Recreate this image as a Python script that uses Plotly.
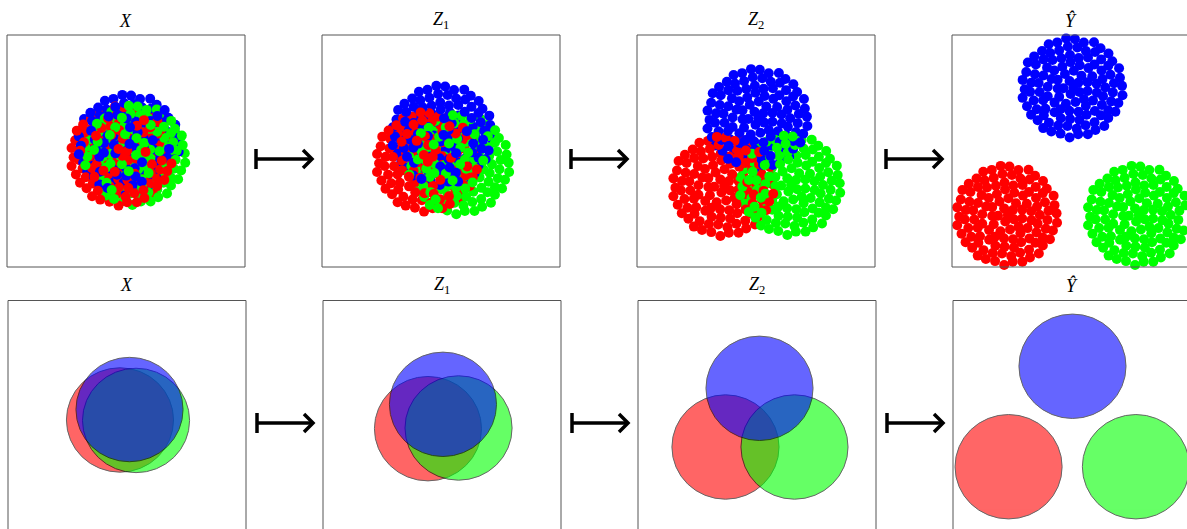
import numpy as np
import plotly.graph_objects as go

W, H = 1187, 529

# Stage titles and class colours (red, green, blue)
TITLES = ["<i>X</i>", "<i>Z</i><sub>1</sub>", "<i>Z</i><sub>2</sub>", "<i>Ŷ</i>"]
CLASS_COLORS = ["#ff0000", "#00ff00", "#0000ff"]
CIRCLE_COLORS = ["rgb(255,0,0)", "rgb(0,255,0)", "rgb(0,0,255)"]

# Point layout of one class blob inside the unit disc (radius, angle in degrees)
BLOB_R = [
    0.95, 0.93, 0.97, 0.92, 0.96, 0.94, 0.98, 0.91, 0.95, 0.97, 0.93, 0.96, 0.92, 0.95, 0.98, 0.93,
    0.96, 0.91, 0.97, 0.94, 0.95, 0.92, 0.97, 0.95, 0.93, 0.98, 0.92, 0.96, 0.94, 0.97, 0.91, 0.95,
    0.93, 0.97,
    0.80, 0.77, 0.81, 0.78, 0.82, 0.76, 0.79, 0.81, 0.77, 0.80, 0.78, 0.83, 0.76, 0.79, 0.81, 0.78,
    0.80, 0.77, 0.82, 0.79, 0.76, 0.81, 0.78, 0.80, 0.77, 0.82, 0.79, 0.78,
    0.63, 0.60, 0.65, 0.62, 0.66, 0.59, 0.64, 0.61, 0.66, 0.62, 0.60, 0.65, 0.63, 0.61, 0.66, 0.59,
    0.64, 0.62, 0.65, 0.60, 0.63, 0.66, 0.61,
    0.47, 0.44, 0.49, 0.46, 0.50, 0.45, 0.48, 0.43, 0.47, 0.50, 0.45, 0.48, 0.46, 0.49, 0.44, 0.47,
    0.48,
    0.31, 0.29, 0.33, 0.30, 0.32, 0.28, 0.31, 0.34, 0.29, 0.32, 0.30,
    0.15, 0.14, 0.17, 0.13, 0.16,
    0.02,
]
BLOB_DEG = [
    2, 12, 23, 34, 44, 55, 65, 76, 87, 97, 108, 118, 129, 140, 150, 161,
    171, 182, 192, 203, 214, 224, 235, 245, 256, 267, 277, 288, 298, 309, 319, 330,
    341, 351,
    6, 19, 32, 45, 58, 70, 83, 96, 109, 122, 135, 147, 160, 173, 186, 199,
    212, 225, 237, 250, 263, 276, 289, 302, 315, 327, 340, 353,
    0, 16, 31, 47, 63, 78, 94, 110, 125, 141, 157, 172, 188, 204, 219, 235,
    250, 266, 282, 297, 313, 329, 344,
    9, 30, 51, 72, 94, 115, 136, 157, 178, 200, 221, 242, 263, 284, 306, 327,
    348,
    20, 53, 85, 118, 151, 184, 216, 249, 282, 314, 347,
    40, 112, 184, 256, 328,
    0,
]
BLOB_SCALE = 0.44

# Class centres per stage for the point clouds: [red, green, blue] as (x, y)
POINT_CENTERS = [
    [(-0.040, -0.040), (0.076, -0.034), (0.021, 0.060)],
    [(-0.120, -0.092), (0.151, -0.115), (0.013, 0.138)],
    [(-0.277, -0.302), (0.286, -0.293), (0.010, 0.282)],
    [(-0.539, -0.552), (0.561, -0.552), (0.011, 0.547)],
]

# Class centres per stage for the summary discs, and their radius
CIRCLE_CENTERS = [
    [(-0.059, -0.030), (0.076, -0.034), (0.021, 0.060)],
    [(-0.118, -0.105), (0.139, -0.099), (0.008, 0.105)],
    [(-0.265, -0.263), (0.315, -0.263), (0.021, 0.243)],
    [(-0.533, -0.433), (0.537, -0.433), (0.004, 0.433)],
]
CIRCLE_RADIUS = 0.45

# ---- layout geometry (pixels) ----
PW, PH = 238, 232
TOP_LEFTS, TOP_Y = [7, 322, 637, 952], 35
BOT_LEFTS, BOT_Y = [8, 323, 638, 953], 300.5
TITLE_Y = [20.5, 285]
ARROW_TOP = ([256, 571, 886], 159)
ARROW_BOT = ([257, 572, 887], 423)


def px(x):
    return x / W


def py(y):
    return 1 - y / H


fig = go.Figure()
layout = dict(
    width=W, height=H, margin=dict(l=0, r=0, t=0, b=0),
    paper_bgcolor="white", plot_bgcolor="white", showlegend=False,
)
shapes, annotations = [], []


def add_panel(idx, left, top, title, title_y):
    right = min(left + PW, W)
    bottom = min(top + PH, H)
    xr = [-1, -1 + 2 * (right - left) / PW]
    yr = [1 - 2 * (bottom - top) / PH, 1]
    sfx = "" if idx == 1 else str(idx)
    layout["xaxis" + sfx] = dict(domain=[px(left), px(right)], range=xr, visible=False,
                                 fixedrange=True, anchor="y" + sfx)
    layout["yaxis" + sfx] = dict(domain=[py(bottom), py(top)], range=yr, visible=False,
                                 fixedrange=True, anchor="x" + sfx)
    shapes.append(dict(type="rect", xref="paper", yref="paper",
                       x0=px(left), x1=px(left + PW), y0=py(top + PH), y1=py(top),
                       line=dict(color="#555555", width=1), layer="above"))
    annotations.append(dict(text=title, xref="paper", yref="paper",
                            x=px(left + PW / 2), y=py(title_y), showarrow=False,
                            xanchor="center", yanchor="middle",
                            font=dict(family="Liberation Serif", size=18, color="black")))
    return "x" + sfx, "y" + sfx


def add_arrow(x0, yc):
    x1 = x0 + 56
    line = dict(color="black", width=3.5)
    shapes.append(dict(type="line", xref="paper", yref="paper",
                       x0=px(x0), x1=px(x0), y0=py(yc - 10), y1=py(yc + 10), line=line))
    shapes.append(dict(type="line", xref="paper", yref="paper",
                       x0=px(x0), x1=px(x1), y0=py(yc), y1=py(yc), line=line))
    shapes.append(dict(type="path", xref="paper", yref="paper",
                       path=f"M {px(x1 - 9)},{py(yc - 9)} L {px(x1)},{py(yc)} L {px(x1 - 9)},{py(yc + 9)}",
                       line=line))


blob = np.array(BLOB_R) * BLOB_SCALE
ang = np.deg2rad(BLOB_DEG)
bx, by = blob * np.cos(ang), blob * np.sin(ang)
n = len(bx)

# Drawing order: step through every (class, point) pair with a fixed stride so
# that overlapping classes are layered in a mixed order
total = 3 * n
stride = 100
draw_order = [(t * stride) % total for t in range(total)]

# Top row: point clouds
for k in range(4):
    xa, ya = add_panel(k + 1, TOP_LEFTS[k], TOP_Y, TITLES[k], TITLE_Y[0])
    xs, ys, cs = [], [], []
    for m in draw_order:
        c, i = m % 3, m // 3
        cx, cy = POINT_CENTERS[k][c]
        xs.append(cx + bx[i])
        ys.append(cy + by[i])
        cs.append(CLASS_COLORS[c])
    fig.add_trace(go.Scatter(x=xs, y=ys, mode="markers", xaxis=xa, yaxis=ya,
                             marker=dict(size=10, color=cs, line=dict(width=0)),
                             cliponaxis=False, hoverinfo="skip"))

# Bottom row: one translucent disc per class
for k in range(4):
    xa, ya = add_panel(k + 5, BOT_LEFTS[k], BOT_Y, TITLES[k], TITLE_Y[1])
    for c in range(3):
        cx, cy = CIRCLE_CENTERS[k][c]
        shapes.append(dict(type="circle", xref=xa, yref=ya,
                           x0=cx - CIRCLE_RADIUS, x1=cx + CIRCLE_RADIUS,
                           y0=cy - CIRCLE_RADIUS, y1=cy + CIRCLE_RADIUS,
                           fillcolor=CIRCLE_COLORS[c], opacity=0.6,
                           line=dict(color="black", width=1), layer="below"))
    fig.add_trace(go.Scatter(x=[], y=[], xaxis=xa, yaxis=ya))

for x0 in ARROW_TOP[0]:
    add_arrow(x0, ARROW_TOP[1])
for x0 in ARROW_BOT[0]:
    add_arrow(x0, ARROW_BOT[1])

layout["shapes"] = shapes
layout["annotations"] = annotations
fig.update_layout(**layout)
fig.write_html("out.html")
